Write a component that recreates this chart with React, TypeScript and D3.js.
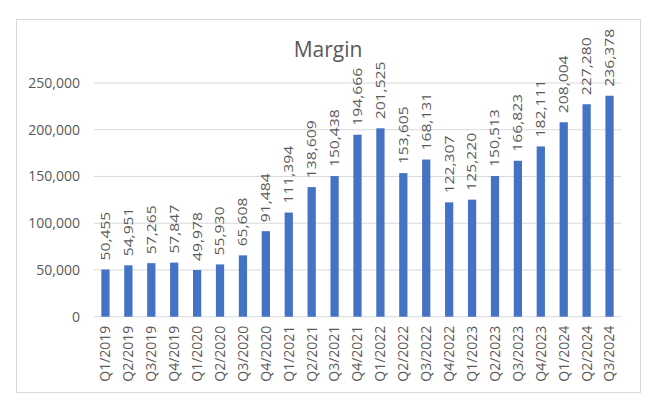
import React from "react";
import * as d3 from "d3";

const categories = ["Q1/2019","Q2/2019","Q3/2019","Q4/2019","Q1/2020","Q2/2020","Q3/2020","Q4/2020","Q1/2021","Q2/2021","Q3/2021","Q4/2021","Q1/2022","Q2/2022","Q3/2022","Q4/2022","Q1/2023","Q2/2023","Q3/2023","Q4/2023","Q1/2024","Q2/2024","Q3/2024"];
const values = [50455,54951,57265,57847,49978,55930,65608,91484,111394,138609,150438,194666,201525,153605,168131,122307,125220,150513,166823,182111,208004,227280,236378];
const yTicks = [0,50000,100000,150000,200000,250000];
const title = "Margin";

export default function App() {
  const W = 658, H = 405;
  const left = 94, right = 621, top = 83, bottom = 316.7;
  const x = d3.scaleBand<string>().domain(categories).range([left, right]).paddingInner(0.64).paddingOuter(0.32);
  const y = d3.scaleLinear().domain([0, 250000]).range([bottom, top]);
  const fmt = d3.format(",");
  const font = "'Open Sans', 'DejaVu Sans', sans-serif";
  const gray = "#595959";
  return (
    <svg width={W} height={H} style={{ position: "absolute", left: 0, top: 0 }} fontFamily={font}>
      <rect x={0} y={0} width={W} height={H} fill="#fff" />
      <rect x={16.5} y={19.5} width={624} height={373} fill="#fff" stroke="#d9d9d9" strokeWidth={1} />
      <text x={328} y={57} textAnchor="middle" fontSize={21} fill={gray}>{title}</text>
      {yTicks.map(t => (
        <g key={t}>
          <line x1={left} x2={right} y1={y(t)} y2={y(t)} stroke="#d9d9d9" strokeWidth={1} />
          <text x={80} y={y(t)} dy="0.35em" textAnchor="end" fontSize={14} fill={gray}>{fmt(t)}</text>
        </g>
      ))}
      {categories.map((c, i) => {
        const cx = x(c)! + x.bandwidth() / 2;
        return (
          <g key={c}>
            <rect x={x(c)} y={y(values[i])} width={x.bandwidth()} height={bottom - y(values[i])} fill="#4472c4" />
            <text transform={`translate(${cx},${y(values[i]) - 9}) rotate(-90) scale(1.12,0.9)`} dy="0.35em" fontSize={14} fill={gray}>{fmt(values[i])}</text>
            <text transform={`translate(${cx},${bottom + 9}) rotate(-90)`} dy="0.35em" textAnchor="end" fontSize={14} fill={gray}>{c}</text>
          </g>
        );
      })}
    </svg>
  );
}
